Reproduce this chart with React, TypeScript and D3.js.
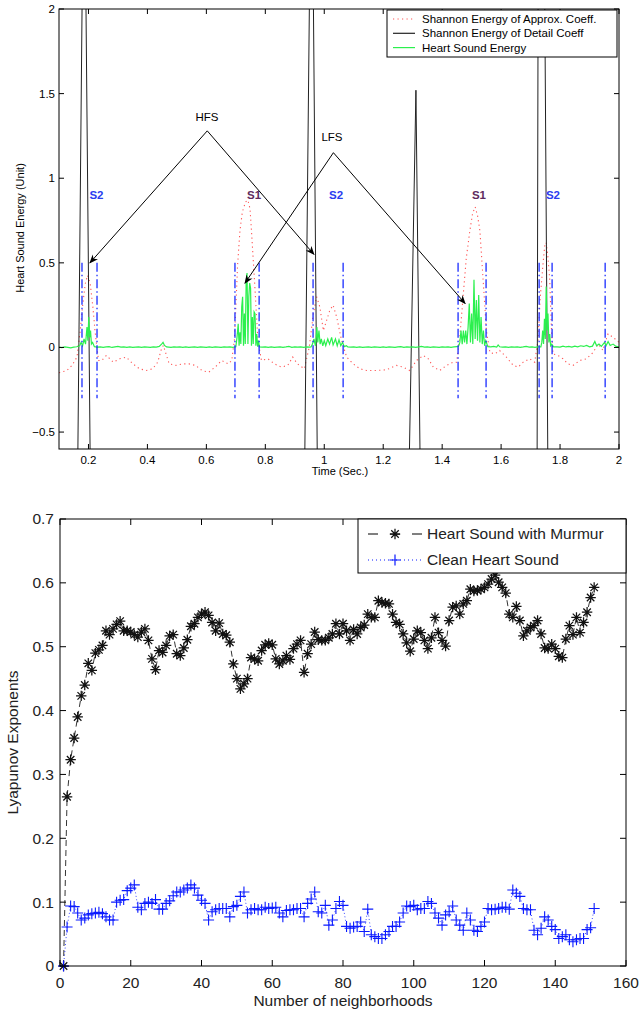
import React from 'react';
import * as d3 from 'd3';

// ---- top panel data (time in seconds, energy in units) ----
const approxCoeff: [number, number][] = [
  [0.10, -0.15], [0.127, -0.136], [0.144, -0.106], [0.161, -0.057], [0.172, 0.10], [0.181, 0.26],
  [0.189, 0.376], [0.197, 0.426], [0.206, 0.376], [0.215, 0.239], [0.222, 0.10], [0.234, -0.077],
  [0.245, -0.077], [0.261, -0.047], [0.284, -0.087], [0.306, -0.067], [0.328, -0.057], [0.351, -0.097],
  [0.373, -0.126], [0.396, -0.136], [0.418, -0.126], [0.435, -0.087], [0.446, -0.018], [0.454, 0.012],
  [0.463, -0.038], [0.474, -0.097], [0.496, -0.106], [0.518, -0.097], [0.541, -0.097], [0.563, -0.106],
  [0.585, -0.136], [0.608, -0.146], [0.630, -0.116], [0.652, -0.077], [0.675, -0.097], [0.686, -0.077],
  [0.695, 0.04], [0.70, 0.24], [0.706, 0.49], [0.714, 0.69], [0.722, 0.80], [0.733, 0.86], [0.741, 0.87],
  [0.748, 0.82], [0.753, 0.69], [0.764, 0.376], [0.775, 0.04], [0.787, -0.077], [0.809, -0.067],
  [0.831, -0.097], [0.854, -0.116], [0.876, -0.106], [0.893, -0.057], [0.909, -0.097], [0.932, -0.126],
  [0.949, 0.0], [0.963, 0.2], [0.974, 0.3], [0.985, 0.24], [0.997, 0.1], [1.008, 0.16], [1.019, 0.22],
  [1.03, 0.25], [1.042, 0.18], [1.059, 0.04], [1.076, -0.057], [1.098, -0.097], [1.121, -0.126],
  [1.143, -0.136], [1.177, -0.136], [1.211, -0.132], [1.245, -0.106], [1.268, -0.116], [1.29, -0.136],
  [1.313, -0.077], [1.336, -0.047], [1.353, -0.067], [1.37, -0.116], [1.392, -0.136], [1.415, -0.106],
  [1.437, -0.087], [1.449, -0.087], [1.46, 0.06], [1.471, 0.30], [1.482, 0.53], [1.494, 0.69],
  [1.503, 0.79], [1.512, 0.83], [1.52, 0.78], [1.528, 0.69], [1.539, 0.40], [1.55, 0.10], [1.562, -0.03],
  [1.579, -0.038], [1.595, -0.018], [1.618, -0.057], [1.641, -0.106], [1.658, -0.116], [1.675, -0.087],
  [1.697, -0.067], [1.714, -0.087], [1.725, 0.04], [1.733, 0.30], [1.742, 0.49], [1.748, 0.60],
  [1.753, 0.62], [1.758, 0.55], [1.765, 0.40], [1.771, 0.1], [1.776, -0.038], [1.793, -0.047],
  [1.81, -0.067], [1.827, -0.097], [1.844, -0.106], [1.867, -0.077], [1.889, -0.067], [1.912, -0.03],
  [1.929, 0.02], [1.946, -0.018], [1.951, 0.02], [1.963, 0.08], [1.98, 0.06], [2.0, 0.03],
];

const detailCoeff: [number, number][] = [
  [0.10, -0.9], [0.163, -0.8], [0.185, 3.25], [0.2065, -0.8],
  [0.933, -0.8], [0.957, 3.3], [0.977, -0.8],
  [1.287, -0.8], [1.311, 1.52], [1.326, -0.8],
  [1.722, -0.8], [1.731, 6.55], [1.759, -0.8], [2.0, -0.9],
];

const heartEnergy: [number, number][] = [
  [0.10, 0.002], [0.11, -0.001], [0.12, 0.003], [0.13, 0.001], [0.14, -0.002], [0.15, 0.002],
  [0.16, 0.004], [0.17, 0.01], [0.175, 0.03], [0.18, 0.01], [0.185, 0.05], [0.19, 0.02], [0.195, 0.12],
  [0.198, 0.04], [0.201, 0.18], [0.204, 0.06], [0.207, 0.1], [0.21, 0.02], [0.214, 0.03], [0.22, 0.005],
  [0.23, 0.002], [0.24, 0.004], [0.25, 0.001], [0.26, 0.003], [0.27, 0.005], [0.28, 0.0], [0.29, 0.003],
  [0.30, 0.006], [0.31, 0.002], [0.32, 0.004], [0.33, 0.001], [0.34, 0.003], [0.35, 0.0], [0.36, 0.002],
  [0.37, 0.004], [0.38, 0.001], [0.39, 0.003], [0.40, 0.002], [0.41, 0.0], [0.42, 0.003], [0.43, 0.002],
  [0.44, 0.006], [0.448, 0.02], [0.453, 0.03], [0.458, 0.012], [0.465, 0.003], [0.48, 0.001],
  [0.49, 0.003], [0.50, 0.002], [0.51, 0.004], [0.52, 0.001], [0.53, 0.003], [0.54, 0.0], [0.55, 0.002],
  [0.56, 0.004], [0.57, 0.001], [0.58, 0.003], [0.59, 0.002], [0.60, 0.0], [0.61, 0.003], [0.62, 0.001],
  [0.63, 0.004], [0.64, 0.002], [0.65, 0.0], [0.66, 0.003], [0.67, 0.002], [0.68, 0.004], [0.69, 0.001],
  [0.70, 0.004], [0.704, 0.06], [0.708, 0.14], [0.711, 0.01], [0.714, 0.09], [0.717, 0.02], [0.72, 0.24],
  [0.723, 0.3], [0.726, 0.01], [0.729, 0.2], [0.732, 0.02], [0.735, 0.39], [0.738, 0.44], [0.741, 0.02],
  [0.744, 0.3], [0.747, 0.38], [0.75, 0.35], [0.753, 0.01], [0.756, 0.18], [0.759, 0.02], [0.762, 0.21],
  [0.765, 0.2], [0.768, 0.01], [0.771, 0.08], [0.774, 0.005], [0.777, 0.04], [0.78, 0.003],
  [0.79, 0.002], [0.80, 0.004], [0.81, 0.001], [0.82, 0.003], [0.83, 0.0], [0.84, 0.002], [0.85, 0.004],
  [0.86, 0.001], [0.87, 0.003], [0.88, 0.006], [0.89, 0.001], [0.90, 0.003], [0.91, 0.002], [0.92, 0.004],
  [0.93, 0.001], [0.94, 0.003], [0.95, 0.002], [0.955, 0.003], [0.96, 0.02], [0.965, 0.05], [0.97, 0.01],
  [0.975, 0.12], [0.978, 0.03], [0.982, 0.1], [0.986, 0.02], [0.99, 0.05], [0.995, 0.01], [1.0, 0.04],
  [1.005, 0.01], [1.012, 0.05], [1.018, 0.02], [1.025, 0.06], [1.03, 0.015], [1.038, 0.05], [1.044, 0.01],
  [1.05, 0.045], [1.056, 0.01], [1.062, 0.03], [1.068, 0.005], [1.075, 0.01], [1.08, 0.003],
  [1.09, 0.002], [1.10, 0.004], [1.11, 0.001], [1.12, 0.003], [1.13, 0.0], [1.14, 0.002], [1.15, 0.004],
  [1.16, 0.001], [1.17, 0.003], [1.18, 0.002], [1.19, 0.0], [1.20, 0.003], [1.21, 0.001], [1.22, 0.004],
  [1.23, 0.002], [1.24, 0.0], [1.25, 0.003], [1.26, 0.005], [1.27, 0.001], [1.28, 0.003], [1.29, 0.002],
  [1.30, 0.004], [1.31, 0.001], [1.32, 0.003], [1.33, 0.006], [1.34, 0.002], [1.35, 0.003], [1.36, 0.001],
  [1.37, 0.004], [1.38, 0.002], [1.39, 0.0], [1.40, 0.003], [1.41, 0.002], [1.42, 0.004], [1.43, 0.001],
  [1.44, 0.003], [1.45, 0.005], [1.455, 0.005], [1.46, 0.03], [1.464, 0.1], [1.468, 0.02], [1.472, 0.1],
  [1.476, 0.03], [1.48, 0.1], [1.484, 0.02], [1.488, 0.12], [1.492, 0.26], [1.496, 0.03], [1.5, 0.2],
  [1.504, 0.02], [1.508, 0.40], [1.512, 0.05], [1.516, 0.28], [1.52, 0.04], [1.524, 0.31], [1.528, 0.03],
  [1.532, 0.18], [1.536, 0.02], [1.54, 0.1], [1.544, 0.01], [1.548, 0.04], [1.555, 0.005], [1.565, 0.003],
  [1.575, 0.006], [1.585, 0.002], [1.59, 0.015], [1.595, 0.004], [1.605, 0.002], [1.615, 0.004],
  [1.625, 0.001], [1.635, 0.003], [1.645, 0.002], [1.655, 0.004], [1.665, 0.001], [1.675, 0.003],
  [1.685, 0.006], [1.695, 0.002], [1.705, 0.003], [1.715, 0.001], [1.725, 0.004], [1.735, 0.003],
  [1.738, 0.03], [1.741, 0.1], [1.744, 0.02], [1.747, 0.17], [1.75, 0.05], [1.753, 0.36], [1.756, 0.1],
  [1.759, 0.2], [1.762, 0.03], [1.765, 0.08], [1.768, 0.01], [1.772, 0.02], [1.778, 0.003],
  [1.79, 0.004], [1.80, 0.002], [1.81, 0.008], [1.82, 0.003], [1.83, 0.006], [1.84, 0.002], [1.85, 0.008],
  [1.86, 0.004], [1.87, 0.01], [1.88, 0.006], [1.89, 0.012], [1.90, 0.004], [1.91, 0.008], [1.918, 0.035],
  [1.924, 0.01], [1.932, 0.02], [1.94, 0.006], [1.951, 0.03], [1.956, 0.01], [1.963, 0.035],
  [1.97, 0.012], [1.98, 0.02], [1.99, 0.006], [2.0, 0.004],
];

const segmentBounds = [0.178, 0.229, 0.697, 0.779, 0.962, 1.064, 1.454, 1.549, 1.729, 1.773, 1.953];
const soundLabels = [
  { t: 0.227, text: 'S2', kind: 'S2' },
  { t: 0.762, text: 'S1', kind: 'S1' },
  { t: 1.04, text: 'S2', kind: 'S2' },
  { t: 1.525, text: 'S1', kind: 'S1' },
  { t: 1.776, text: 'S2', kind: 'S2' },
];
const annotations = [
  { text: 'HFS', label: [0.602, 1.362], apex: [0.603, 1.28], targets: [[0.205, 0.5], [0.965, 0.55]] },
  { text: 'LFS', label: [1.026, 1.243], apex: [1.031, 1.151], targets: [[0.731, 0.38], [1.478, 0.26]] },
];
const topXTicks = [0.2, 0.4, 0.6, 0.8, 1, 1.2, 1.4, 1.6, 1.8, 2];
const topYTicks = [-0.5, 0, 0.5, 1, 1.5, 2];

// ---- bottom panel data (Lyapunov exponent per number of neighborhoods 1..151) ----
const murmurLE = [
  0, 0.265, 0.323, 0.357, 0.39, 0.423, 0.44, 0.474, 0.463, 0.49,
  0.495, 0.502, 0.525, 0.519, 0.528, 0.535, 0.54, 0.525, 0.525, 0.523,
  0.519, 0.515, 0.523, 0.528, 0.51, 0.481, 0.464, 0.494, 0.491, 0.502,
  0.517, 0.519, 0.489, 0.486, 0.498, 0.511, 0.532, 0.536, 0.546, 0.551,
  0.554, 0.549, 0.538, 0.525, 0.537, 0.52, 0.518, 0.507, 0.473, 0.45,
  0.434, 0.442, 0.45, 0.483, 0.481, 0.478, 0.494, 0.503, 0.505, 0.503,
  0.481, 0.473, 0.478, 0.486, 0.48, 0.497, 0.504, 0.51, 0.46, 0.489,
  0.504, 0.523, 0.511, 0.51, 0.51, 0.514, 0.52, 0.536, 0.52, 0.536,
  0.525, 0.51, 0.527, 0.52, 0.53, 0.534, 0.551, 0.546, 0.546, 0.572,
  0.569, 0.568, 0.567, 0.551, 0.538, 0.535, 0.52, 0.506, 0.493, 0.512,
  0.525, 0.522, 0.51, 0.497, 0.514, 0.546, 0.522, 0.51, 0.501, 0.541,
  0.562, 0.564, 0.551, 0.567, 0.572, 0.59, 0.587, 0.588, 0.59, 0.593,
  0.598, 0.606, 0.612, 0.601, 0.593, 0.584, 0.551, 0.546, 0.563, 0.541,
  0.517, 0.525, 0.53, 0.533, 0.541, 0.52, 0.498, 0.497, 0.504, 0.497,
  0.485, 0.483, 0.512, 0.533, 0.519, 0.546, 0.522, 0.538, 0.554, 0.577,
  0.593,
];
const cleanLE = [
  0, 0.061, 0.094, 0.093, 0.083, 0.072, 0.075, 0.08, 0.082, 0.083,
  0.084, 0.082, 0.077, 0.072, 0.072, 0.1, 0.103, 0.104, 0.118, 0.122,
  0.127, 0.092, 0.088, 0.098, 0.1, 0.098, 0.104, 0.089, 0.089, 0.098,
  0.102, 0.11, 0.116, 0.116, 0.119, 0.122, 0.127, 0.122, 0.111, 0.103,
  0.098, 0.072, 0.085, 0.088, 0.09, 0.09, 0.09, 0.077, 0.093, 0.095,
  0.109, 0.116, 0.083, 0.088, 0.09, 0.088, 0.088, 0.092, 0.09, 0.091,
  0.092, 0.083, 0.077, 0.087, 0.088, 0.088, 0.09, 0.09, 0.077, 0.098,
  0.105, 0.116, 0.085, 0.083, 0.095, 0.064, 0.072, 0.09, 0.101, 0.095,
  0.062, 0.059, 0.061, 0.062, 0.069, 0.054, 0.089, 0.049, 0.046, 0.043,
  0.043, 0.049, 0.054, 0.062, 0.062, 0.069, 0.083, 0.094, 0.093, 0.095,
  0.088, 0.09, 0.09, 0.101, 0.098, 0.083, 0.075, 0.064, 0.08, 0.085,
  0.094, 0.072, 0.064, 0.056, 0.083, 0.072, 0.056, 0.054, 0.062, 0.069,
  0.09, 0.088, 0.089, 0.09, 0.092, 0.092, 0.089, 0.119, 0.114, 0.109,
  0.09, 0.088, 0.088, 0.056, 0.049, 0.059, 0.077, 0.072, 0.062, 0.057,
  0.043, 0.046, 0.049, 0.041, 0.038, 0.041, 0.043, 0.043, 0.057, 0.06,
  0.09,
];
const bottomXTicks = [0, 20, 40, 60, 80, 100, 120, 140, 160];
const bottomYTicks = [0, 0.1, 0.2, 0.3, 0.4, 0.5, 0.6, 0.7];

const FONT = '"Liberation Sans", Arial, Helvetica, sans-serif';
const BLUE = '#0a1aff';
const RED = '#ff5555';
const GREEN = '#2bf04e';

const starPath = (r: number) => {
  const d = r * 0.72;
  return `M${-r},0L${r},0M0,${-r}L0,${r}M${-d},${-d}L${d},${d}M${-d},${d}L${d},${-d}`;
};
const plusPath = (r: number) => `M${-r},0L${r},0M0,${-r}L0,${r}`;

const fmt = (v: number) => (v < 0 ? '\u2212' + String(-v) : String(v));

export default function App() {
  // top panel scales
  const xT = d3.scaleLinear().domain([0.1, 2]).range([59, 619]);
  const yT = d3.scaleLinear().domain([-0.6, 2]).range([449, 9]);
  const lineT = d3.line<[number, number]>().x(d => xT(d[0])).y(d => yT(d[1]));

  // bottom panel scales
  const xB = d3.scaleLinear().domain([0, 160]).range([60, 626]);
  const yB = d3.scaleLinear().domain([0, 0.7]).range([966, 519]);
  const idx = d3.range(1, murmurLE.length + 1);
  const lineB = d3.line<number>().x((_, i) => xB(idx[i])).y(d => yB(d));

  const [tx0, tx1] = xT.range();
  const [ty0, ty1] = yT.range();
  const [bx0, bx1] = xB.range();
  const [by0, by1] = yB.range();

  return (
    <svg width={641} height={1013} style={{ display: 'block', background: '#fff' }} fontFamily={FONT}>
      <style>{`body{margin:0}`}</style>
      <defs>
        <clipPath id="clipTop">
          <rect x={tx0} y={ty1} width={tx1 - tx0} height={ty0 - ty1} />
        </clipPath>
        <marker id="arrowHead" viewBox="0 0 10 10" refX="9" refY="5" markerWidth="9" markerHeight="9"
          markerUnits="userSpaceOnUse" orient="auto">
          <path d="M0,1L10,5L0,9L3,5Z" fill="#000" />
        </marker>
      </defs>

      {/* ===== TOP PANEL ===== */}
      <g clipPath="url(#clipTop)">
        <path d={lineT(approxCoeff) || ''} fill="none" stroke={RED} strokeWidth={1.1} strokeDasharray="1.2,3.3" />
        <path d={lineT(detailCoeff) || ''} fill="none" stroke="#222" strokeWidth={1} />
        <path d={lineT(heartEnergy) || ''} fill="none" stroke={GREEN} strokeWidth={1.2} />
        {segmentBounds.map((t, i) => (
          <line key={i} x1={xT(t)} x2={xT(t)} y1={yT(0.5)} y2={yT(-0.3)} stroke="#1a2cff"
            strokeWidth={1.3} strokeDasharray="9,3,1.5,3" />
        ))}
      </g>

      {soundLabels.map((s, i) => (
        <text key={i} x={xT(s.t)} y={yT(0.9)} dy="0.35em" textAnchor="middle" fontSize={11.5}
          fontWeight="bold" fill={s.kind === 'S1' ? '#5e2a5e' : '#2a3cf0'}>{s.text}</text>
      ))}

      {annotations.map((a, i) => (
        <g key={i}>
          <text x={xT(a.label[0])} y={yT(a.label[1])} dy="0.35em" textAnchor="middle" fontSize={11.5}>{a.text}</text>
          {a.targets.map((p, j) => (
            <line key={j} x1={xT(a.apex[0])} y1={yT(a.apex[1])} x2={xT(p[0])} y2={yT(p[1])}
              stroke="#000" strokeWidth={1} markerEnd="url(#arrowHead)" />
          ))}
        </g>
      ))}

      {/* frame + ticks */}
      <rect x={tx0} y={ty1} width={tx1 - tx0} height={ty0 - ty1} fill="none" stroke="#000" strokeWidth={1} />
      {topXTicks.map(t => (
        <g key={t}>
          <line x1={xT(t)} x2={xT(t)} y1={ty0} y2={ty0 - 5} stroke="#000" />
          <line x1={xT(t)} x2={xT(t)} y1={ty1} y2={ty1 + 5} stroke="#000" />
          <text x={xT(t)} y={ty0 + 15} textAnchor="middle" fontSize={11.5}>{fmt(t)}</text>
        </g>
      ))}
      {topYTicks.map(v => (
        <g key={v}>
          <line x1={tx0} x2={tx0 + 5} y1={yT(v)} y2={yT(v)} stroke="#000" />
          <line x1={tx1} x2={tx1 - 5} y1={yT(v)} y2={yT(v)} stroke="#000" />
          <text x={tx0 - 4} y={yT(v)} dy="0.35em" textAnchor="end" fontSize={11.5}>{fmt(v)}</text>
        </g>
      ))}
      <text x={(tx0 + tx1) / 2 + 1} y={ty0 + 26} textAnchor="middle" fontSize={11}>Time (Sec.)</text>
      <text transform={`translate(20,${(ty0 + ty1) / 2 - 1}) rotate(-90)`} textAnchor="middle" fontSize={11}
        dy="0.35em">Heart Sound Energy (Unit)</text>

      {/* top legend */}
      <g>
        <rect x={387} y={10} width={230} height={47} fill="#fff" stroke="#000" strokeWidth={1} />
        {[
          { label: 'Shannon Energy of Approx. Coeff.', stroke: RED, dash: '1.2,3.3' },
          { label: 'Shannon Energy of Detail Coeff', stroke: '#222', dash: '' },
          { label: 'Heart Sound Energy', stroke: GREEN, dash: '' },
        ].map((e, i) => (
          <g key={i} transform={`translate(0,${19 + i * 14.3})`}>
            <line x1={393} x2={415} y1={0} y2={0} stroke={e.stroke} strokeWidth={1.2}
              strokeDasharray={e.dash || undefined} />
            <text x={422} y={0} dy="0.35em" fontSize={11.5}>{e.label}</text>
          </g>
        ))}
      </g>

      {/* ===== BOTTOM PANEL ===== */}
      <path d={lineB(murmurLE) || ''} fill="none" stroke="#000" strokeWidth={0.8} strokeDasharray="6,4" />
      <path d={lineB(cleanLE) || ''} fill="none" stroke={BLUE} strokeWidth={0.8} strokeDasharray="1,2.5" />
      {murmurLE.map((v, i) => (
        <path key={'m' + i} d={starPath(5.2)} transform={`translate(${xB(idx[i])},${yB(v)})`}
          stroke="#111" strokeWidth={1.25} fill="none" />
      ))}
      {cleanLE.map((v, i) => (
        <path key={'c' + i} d={plusPath(5.5)} transform={`translate(${xB(idx[i])},${yB(v)})`}
          stroke={BLUE} strokeWidth={1.1} fill="none" />
      ))}

      <rect x={bx0} y={by1} width={bx1 - bx0} height={by0 - by1} fill="none" stroke="#000" strokeWidth={1} />
      {bottomXTicks.map(t => (
        <g key={t}>
          <line x1={xB(t)} x2={xB(t)} y1={by0} y2={by0 - 6} stroke="#000" />
          <line x1={xB(t)} x2={xB(t)} y1={by1} y2={by1 + 6} stroke="#000" />
          <text x={xB(t)} y={by0 + 22} textAnchor="middle" fontSize={15.5} fill="#222">{t}</text>
        </g>
      ))}
      {bottomYTicks.map(v => (
        <g key={v}>
          <line x1={bx0} x2={bx0 + 6} y1={yB(v)} y2={yB(v)} stroke="#000" />
          <line x1={bx1} x2={bx1 - 6} y1={yB(v)} y2={yB(v)} stroke="#000" />
          <text x={bx0 - 6} y={yB(v)} dy="0.35em" textAnchor="end" fontSize={15.5} fill="#222">{String(v)}</text>
        </g>
      ))}
      <text x={(bx0 + bx1) / 2} y={by0 + 40} textAnchor="middle" fontSize={15.5} fill="#222">Number of neighborhoods</text>
      <text transform={`translate(13,${(by0 + by1) / 2}) rotate(-90)`} textAnchor="middle" dy="0.35em"
        fontSize={15.5} fill="#222">Lyapunov Exponents</text>

      {/* bottom legend */}
      <g>
        <rect x={358} y={519} width={268} height={54} fill="#fff" stroke="#000" strokeWidth={1} />
        <g transform="translate(0,534)">
          <line x1={368} x2={422} y1={0} y2={0} stroke="#000" strokeWidth={1} strokeDasharray="10,12" />
          <path d={starPath(5.2)} transform="translate(395,0)" stroke="#111" strokeWidth={1.25} fill="none" />
          <text x={427} y={0} dy="0.35em" fontSize={15.5} fill="#222">Heart Sound with Murmur</text>
        </g>
        <g transform="translate(0,560)">
          <line x1={368} x2={422} y1={0} y2={0} stroke={BLUE} strokeWidth={1} strokeDasharray="1,3" />
          <path d={plusPath(5.5)} transform="translate(395,0)" stroke={BLUE} strokeWidth={1.2} fill="none" />
          <text x={427} y={0} dy="0.35em" fontSize={15.5} fill="#222">Clean Heart Sound</text>
        </g>
      </g>
    </svg>
  );
}
